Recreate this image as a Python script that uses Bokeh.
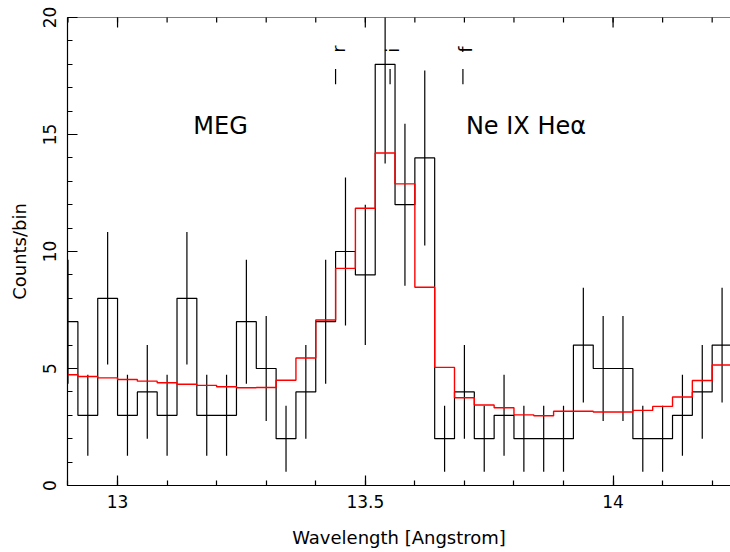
from math import pi
from bokeh.plotting import figure
from bokeh.models import Range1d, FixedTicker, Label, Span
from bokeh.embed import file_html
from bokeh.resources import INLINE
from bokeh.core.properties import value

# ---- data -------------------------------------------------------------
# bin centres (Angstrom), bin width 0.04 A
wavelength = [12.90, 12.94, 12.98, 13.02, 13.06, 13.10, 13.14, 13.18, 13.22, 13.26,
              13.30, 13.34, 13.38, 13.42, 13.46, 13.50, 13.54, 13.58, 13.62, 13.66,
              13.70, 13.74, 13.78, 13.82, 13.86, 13.90, 13.94, 13.98, 14.02, 14.06,
              14.10, 14.14, 14.18, 14.22]
bin_width = 0.04
counts = [7, 3, 8, 3, 4, 3, 8, 3, 3, 7, 5, 2, 4, 7, 10, 9, 18, 12, 14, 2,
          4, 2, 3, 2, 2, 2, 6, 5, 5, 2, 2, 3, 4, 6]
count_err = [2.65, 1.73, 2.83, 1.73, 2.0, 1.73, 2.83, 1.73, 1.73, 2.65,
             2.24, 1.41, 2.0, 2.65, 3.16, 3.0, 4.24, 3.46, 3.74, 1.41,
             2.0, 1.41, 1.73, 1.41, 1.41, 1.41, 2.45, 2.24, 2.24, 1.41,
             1.41, 1.73, 2.0, 2.45]
model = [4.73, 4.66, 4.60, 4.53, 4.46, 4.39, 4.33, 4.28, 4.22, 4.18,
         4.19, 4.50, 5.45, 7.07, 9.28, 11.85, 14.21, 12.89, 8.47, 5.05,
         3.75, 3.44, 3.32, 3.02, 2.98, 3.17, 3.17, 3.14, 3.14, 3.21,
         3.38, 3.78, 4.49, 5.15]
line_names = ["r", "i", "f"]
line_wavelengths = [13.44, 13.55, 13.697]
x_ticks = [13, 13.5, 14]
y_ticks = [0, 5, 10, 15, 20]

FONT = "DejaVu Sans"
INK = "#000000"

# ---- derived step outlines -------------------------------------------
edges = [w - bin_width / 2 for w in wavelength] + [wavelength[-1] + bin_width / 2]
counts_step = counts + [counts[-1]]
model_step = model + [model[-1]]
err_lo = [c - e for c, e in zip(counts, count_err)]
err_hi = [c + e for c, e in zip(counts, count_err)]

x_minor = [round(12.9 + 0.1 * k, 2) for k in range(14)]
y_minor = list(range(0, 21))

p = figure(width=730, height=552, output_backend="svg", toolbar_location=None,
           x_range=Range1d(12.899, 14.237), y_range=Range1d(0, 20),
           min_border_left=67, min_border_right=0, min_border_top=17,
           min_border_bottom=67)
p.outline_line_color = None
p.grid.visible = False
p.background_fill_color = "white"
p.border_fill_color = "white"

# data histogram
p.step(edges, counts_step, mode="after", line_color=INK, line_width=1.2)
p.segment(x0=wavelength, y0=err_lo, x1=wavelength, y1=err_hi,
          line_color=INK, line_width=1.2)
# model
p.step(edges, model_step, mode="after", line_color="#ff0000", line_width=1.4)

# line identification marks
p.segment(x0=line_wavelengths, y0=[17.15] * 3, x1=line_wavelengths, y1=[17.8] * 3,
          line_color=INK, line_width=1.2)
p.text(x=line_wavelengths, y=[18.5] * 3, text=line_names, angle=pi / 2,
       x_offset=3, text_align="left", text_baseline="alphabetic",
       text_font=value(FONT), text_font_size="17px", text_color=INK)

p.add_layout(Label(x=13.153, y=15.35, text="MEG", text_font=FONT,
                   text_font_size="24px", text_color=INK,
                   text_align="left", text_baseline="alphabetic"))
p.add_layout(Label(x=13.703, y=15.35, text="Ne IX Heα", text_font=FONT,
                   text_font_size="24px", text_color=INK,
                   text_align="left", text_baseline="alphabetic"))

# top frame edge with inward ticks (markers clipped to the frame)
p.add_layout(Span(location=20, dimension="width", line_color=INK, line_width=1.2))
p.scatter(x=x_ticks, y=[20] * len(x_ticks), marker="dash", angle=pi / 2, size=20,
          line_color=INK, line_width=1.2)
p.scatter(x=x_minor, y=[20] * len(x_minor), marker="dash", angle=pi / 2, size=10,
          line_color=INK, line_width=1.2)

# axes
def style_axis(ax, ticks, minor):
    ax.ticker = FixedTicker(ticks=ticks, minor_ticks=minor)
    ax.major_tick_in = 10
    ax.major_tick_out = 0
    ax.minor_tick_in = 5
    ax.minor_tick_out = 0
    ax.axis_line_color = INK
    ax.major_tick_line_color = INK
    ax.minor_tick_line_color = INK
    ax.axis_line_width = 1.2
    ax.major_tick_line_width = 1.2
    ax.minor_tick_line_width = 1.2
    ax.major_label_text_font = FONT
    ax.major_label_text_font_size = "17px"
    ax.major_label_text_color = INK
    ax.axis_label_text_font = FONT
    ax.axis_label_text_font_size = "18px"
    ax.axis_label_text_font_style = "normal"
    ax.axis_label_text_color = INK

xa = p.xaxis[0]
style_axis(xa, x_ticks, x_minor)
xa.major_label_overrides = {t: f"{t:g}" for t in x_ticks}
xa.axis_label = "Wavelength [Angstrom]"
xa.major_label_standoff = 9
xa.axis_label_standoff = 16

ya = p.yaxis[0]
style_axis(ya, y_ticks, y_minor)
ya.axis_label = "Counts/bin"
ya.major_label_orientation = "vertical"
ya.major_label_standoff = 12
ya.axis_label_standoff = 10

open("out.html", "w").write(file_html(p, INLINE))
